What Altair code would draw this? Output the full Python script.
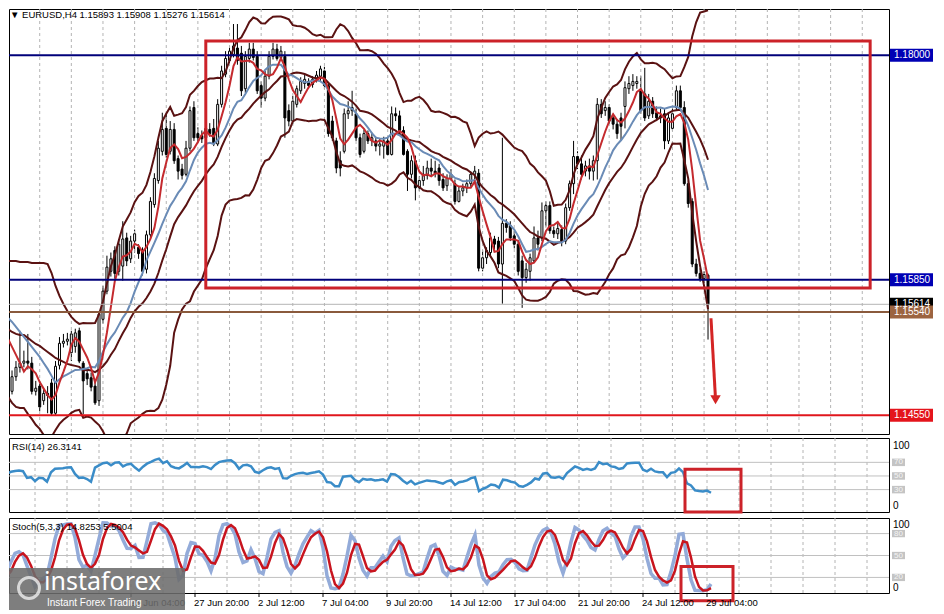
import altair as alt
import pandas as pd

# ---------------- data ----------------
opens = [
    1.1509, 1.1478, 1.1492, 1.1501, 1.1505, 1.1507, 1.1505, 1.1478, 1.1483, 1.1469,
    1.1476, 1.1486, 1.1457, 1.1503, 1.1524, 1.1526, 1.1515, 1.1521, 1.1536, 1.1505,
    1.1495, 1.1491, 1.1483, 1.1469, 1.1547, 1.1574, 1.1593, 1.1613, 1.1593, 1.1598,
    1.1625, 1.1605, 1.1622, 1.1616, 1.1613, 1.1595, 1.1628, 1.1657, 1.1680, 1.1708,
    1.1730, 1.1708, 1.1729, 1.1701, 1.1691, 1.1686, 1.1711, 1.1750, 1.1725, 1.1723,
    1.1721, 1.1729, 1.1730, 1.1715, 1.1753, 1.1782, 1.1795, 1.1801, 1.1807, 1.1802,
    1.1768, 1.1797, 1.1806, 1.1799, 1.1771, 1.1759, 1.1780, 1.1799, 1.1806, 1.1798,
    1.1799, 1.1747, 1.1737, 1.1753, 1.1766, 1.1773, 1.1775, 1.1772, 1.1777, 1.1780,
    1.1785, 1.1771, 1.1737, 1.1718, 1.1699, 1.1708, 1.1744, 1.1747, 1.1744, 1.1721,
    1.1708, 1.1725, 1.1718, 1.1718, 1.1713, 1.1713, 1.1718, 1.1705, 1.1744, 1.1742,
    1.1728, 1.1708, 1.1686, 1.1699, 1.1673, 1.1680, 1.1685, 1.1692, 1.1689, 1.1692,
    1.1681, 1.1675, 1.1682, 1.1677, 1.1660, 1.1670, 1.1673, 1.1677, 1.1686, 1.1687,
    1.1596, 1.1606, 1.1611, 1.1624, 1.1622, 1.1600, 1.1639, 1.1637, 1.1627, 1.1619,
    1.1603, 1.1587, 1.1593, 1.1603, 1.1625, 1.1625, 1.1651, 1.1656, 1.1632, 1.1629,
    1.1633, 1.1622, 1.1654, 1.1677, 1.1703, 1.1696, 1.1689, 1.1694, 1.1689, 1.1699,
    1.1753, 1.1747, 1.1750, 1.1740, 1.1734, 1.1740, 1.1751, 1.1768, 1.1771, 1.1773,
    1.1766, 1.1763, 1.1742, 1.1756, 1.1745, 1.1742, 1.1744, 1.1718, 1.1730, 1.1750,
    1.1766, 1.1750, 1.1677, 1.1660, 1.1600, 1.1591, 1.1586, 1.15893,
]
highs = [
    1.1515, 1.1498, 1.1507, 1.1536, 1.1517, 1.1533, 1.1511, 1.1488, 1.1488, 1.1480,
    1.1483, 1.1490, 1.1507, 1.1530, 1.1533, 1.1534, 1.1536, 1.1538, 1.1539, 1.1507,
    1.1499, 1.1496, 1.1488, 1.1555, 1.1579, 1.1608, 1.1611, 1.1617, 1.1624, 1.1641,
    1.1630, 1.1627, 1.1633, 1.1619, 1.1616, 1.1632, 1.1664, 1.1687, 1.1718, 1.1745,
    1.1745, 1.1737, 1.1735, 1.1704, 1.1696, 1.1718, 1.1751, 1.1756, 1.1731, 1.1728,
    1.1737, 1.1735, 1.1739, 1.1758, 1.1790, 1.1804, 1.1809, 1.1830, 1.1830, 1.1809,
    1.1804, 1.1812, 1.1812, 1.1804, 1.1775, 1.1785, 1.1804, 1.1812, 1.1811, 1.1809,
    1.1804, 1.1753, 1.1761, 1.1771, 1.1779, 1.1782, 1.1778, 1.1780, 1.1785, 1.1790,
    1.1789, 1.1773, 1.1742, 1.1721, 1.1708, 1.1749, 1.1756, 1.1766, 1.1749, 1.1725,
    1.1729, 1.1728, 1.1726, 1.1722, 1.1720, 1.1722, 1.1722, 1.1751, 1.1750, 1.1747,
    1.1732, 1.1710, 1.1704, 1.1704, 1.1684, 1.1694, 1.1699, 1.1701, 1.1699, 1.1696,
    1.1687, 1.1686, 1.1691, 1.1681, 1.1674, 1.1677, 1.1681, 1.1689, 1.1694, 1.1691,
    1.1613, 1.1616, 1.1630, 1.1627, 1.1626, 1.1721, 1.1643, 1.1641, 1.1632, 1.1622,
    1.1608, 1.1601, 1.1610, 1.1636, 1.1632, 1.1659, 1.1660, 1.1660, 1.1636, 1.1639,
    1.1637, 1.1658, 1.1680, 1.1718, 1.1708, 1.1704, 1.1699, 1.1701, 1.1704, 1.1759,
    1.1758, 1.1756, 1.1753, 1.1744, 1.1739, 1.1745, 1.1775, 1.1780, 1.1782, 1.1780,
    1.1780, 1.1788, 1.1763, 1.1760, 1.1751, 1.1749, 1.1749, 1.1744, 1.1749, 1.1771,
    1.1771, 1.1756, 1.1680, 1.1663, 1.1605, 1.1596, 1.1593, 1.15908,
]
lows = [
    1.1474, 1.1475, 1.1488, 1.1496, 1.1501, 1.1499, 1.1475, 1.1474, 1.1459, 1.1465,
    1.1457, 1.1455, 1.1455, 1.1499, 1.1520, 1.1522, 1.1507, 1.1515, 1.1505, 1.1456,
    1.1484, 1.1478, 1.1465, 1.1464, 1.1543, 1.1571, 1.1588, 1.1586, 1.1589, 1.1584,
    1.1598, 1.1601, 1.1611, 1.1605, 1.1589, 1.1591, 1.1624, 1.1654, 1.1677, 1.1704,
    1.1702, 1.1705, 1.1696, 1.1681, 1.1681, 1.1684, 1.1708, 1.1718, 1.1716, 1.1716,
    1.1718, 1.1722, 1.1713, 1.1713, 1.1750, 1.1779, 1.1792, 1.1798, 1.1791, 1.1761,
    1.1764, 1.1793, 1.1795, 1.1763, 1.1750, 1.1756, 1.1777, 1.1796, 1.1795, 1.1795,
    1.1721, 1.1732, 1.1734, 1.1750, 1.1763, 1.1768, 1.1768, 1.1769, 1.1774, 1.1775,
    1.1768, 1.1722, 1.1718, 1.1687, 1.1684, 1.1706, 1.1739, 1.1742, 1.1718, 1.1702,
    1.1706, 1.1715, 1.1713, 1.1708, 1.1704, 1.1701, 1.1704, 1.1704, 1.1737, 1.1723,
    1.1704, 1.1670, 1.1682, 1.1661, 1.1670, 1.1675, 1.1681, 1.1684, 1.1683, 1.1675,
    1.1670, 1.1670, 1.1680, 1.1657, 1.1659, 1.1665, 1.1668, 1.1674, 1.1681, 1.1593,
    1.1593, 1.1600, 1.1607, 1.1614, 1.1596, 1.1562, 1.1630, 1.1622, 1.1615, 1.1589,
    1.1558, 1.1582, 1.1584, 1.1601, 1.1613, 1.1622, 1.1636, 1.1629, 1.1625, 1.1624,
    1.1617, 1.1619, 1.1651, 1.1667, 1.1691, 1.1681, 1.1684, 1.1681, 1.1680, 1.1681,
    1.1740, 1.1742, 1.1734, 1.1729, 1.1720, 1.1718, 1.1730, 1.1763, 1.1766, 1.1768,
    1.1744, 1.1737, 1.1739, 1.1740, 1.1737, 1.1735, 1.1710, 1.1715, 1.1728, 1.1747,
    1.1747, 1.1675, 1.1654, 1.1597, 1.1588, 1.1583, 1.1582, 1.15276,
]
closes = [
    1.1480, 1.1492, 1.1501, 1.1505, 1.1507, 1.1505, 1.1478, 1.1481, 1.1463, 1.1476,
    1.1474, 1.1457, 1.1502, 1.1524, 1.1526, 1.1528, 1.1533, 1.1534, 1.1507, 1.1488,
    1.1490, 1.1482, 1.1467, 1.1552, 1.1574, 1.1597, 1.1605, 1.1591, 1.1619, 1.1624,
    1.1603, 1.1622, 1.1629, 1.1610, 1.1593, 1.1628, 1.1660, 1.1682, 1.1711, 1.1729,
    1.1705, 1.1729, 1.1699, 1.1689, 1.1685, 1.1711, 1.1747, 1.1721, 1.1721, 1.1720,
    1.1730, 1.1725, 1.1715, 1.1753, 1.1785, 1.1797, 1.1804, 1.1809, 1.1795, 1.1766,
    1.1799, 1.1806, 1.1798, 1.1766, 1.1759, 1.1780, 1.1799, 1.1806, 1.1797, 1.1804,
    1.1740, 1.1737, 1.1756, 1.1768, 1.1775, 1.1777, 1.1771, 1.1777, 1.1781, 1.1787,
    1.1771, 1.1725, 1.1721, 1.1692, 1.1692, 1.1744, 1.1747, 1.1750, 1.1721, 1.1705,
    1.1725, 1.1718, 1.1721, 1.1713, 1.1715, 1.1718, 1.1705, 1.1744, 1.1742, 1.1728,
    1.1705, 1.1686, 1.1699, 1.1673, 1.1680, 1.1686, 1.1692, 1.1689, 1.1687, 1.1680,
    1.1673, 1.1682, 1.1686, 1.1660, 1.1670, 1.1673, 1.1677, 1.1686, 1.1689, 1.1596,
    1.1606, 1.1613, 1.1625, 1.1619, 1.1600, 1.1639, 1.1635, 1.1625, 1.1619, 1.1593,
    1.1587, 1.1595, 1.1606, 1.1625, 1.1619, 1.1651, 1.1656, 1.1632, 1.1629, 1.1634,
    1.1622, 1.1654, 1.1677, 1.1703, 1.1696, 1.1686, 1.1694, 1.1689, 1.1699, 1.1753,
    1.1744, 1.1750, 1.1737, 1.1734, 1.1725, 1.1732, 1.1769, 1.1773, 1.1775, 1.1775,
    1.1747, 1.1740, 1.1756, 1.1744, 1.1740, 1.1740, 1.1718, 1.1740, 1.1744, 1.1766,
    1.1750, 1.1677, 1.1658, 1.1600, 1.1591, 1.1586, 1.1590, 1.15614,
]

# indicator values visible at the left edge (their look-back reaches before the first bar shown)
bb_up_head = [1.16029, 1.16029, 1.16029, 1.16020, 1.16020, 1.16020, 1.16010, 1.16010, 1.16010,
              1.16010, 1.16000, 1.15914, 1.15790, 1.15694, 1.15617, 1.15550, 1.15493,
              1.15454, 1.15426]
bb_mid_head = [1.15378, 1.15349, 1.15330, 1.15320, 1.15320, 1.15292, 1.15263, 1.15234, 1.15215,
               1.15186, 1.15157, 1.15129, 1.15100, 1.15081, 1.15062, 1.15043, 1.15033,
               1.15024, 1.15014]
bb_lo_head = [1.14727, 1.14669, 1.14631, 1.14620, 1.14620, 1.14564, 1.14516, 1.14459, 1.14420,
              1.14362, 1.14314, 1.14343, 1.14410, 1.14468, 1.14507, 1.14536, 1.14573,
              1.14594, 1.14602]
ma13_head = [1.15483, 1.15445, 1.15397, 1.15349, 1.15301, 1.15253, 1.15205, 1.15157, 1.15110,
             1.15052, 1.14995, 1.14928]
ma5_head = [1.15282, 1.15206, 1.15129, 1.15052]

price_ticks = [1.18185, 1.17870, 1.17555, 1.17240, 1.16920, 1.16605, 1.16290,
               1.15975, 1.15655, 1.15340, 1.15025, 1.14710, 1.14390]
level_names = ["1.18000", "1.15850", "1.15614", "1.15540", "1.14550"]
level_prices = [1.18000, 1.15850, 1.15614, 1.15540, 1.14550]

time_tick_idx = [32, 48, 64, 80, 96, 112, 128, 144, 160, 176]
time_tick_txt = ["25 Jun 04:00", "27 Jun 20:00", "2 Jul 12:00", "7 Jul 04:00",
                 "9 Jul 20:00", "14 Jul 12:00", "17 Jul 04:00", "21 Jul 20:00",
                 "24 Jul 12:00", "29 Jul 04:00"]
grid_idx = list(range(8, 224, 8))

box_main = {"x": [50], "x2": [218], "y": [1.18137], "y2": [1.15770]}
box_rsi = {"x": [170.5], "x2": [184.5], "y": [60], "y2": [-3]}
box_stoch = {"x": [169.5], "x2": [182.5], "y": [35], "y2": [-12]}
arrow = {"x": [177.75], "x2": [178.9], "y": [1.1548], "y2": [1.1470]}

rsi_levels = [70, 50, 30]
stoch_levels = [80, 50, 20]

title_main = "\u25BC EURUSD,H4  1.15893 1.15908 1.15276 1.15614"
title_rsi = "RSI(14) 26.3141"
title_stoch = "Stoch(5,3,3) 14.8253 5.5004"

# ---------------- derived indicators ----------------
df = pd.DataFrame({"i": range(len(closes)), "open": opens, "high": highs,
                   "low": lows, "close": closes})
c = df["close"]
df["ma5"] = c.rolling(5, min_periods=1).mean()
df["ma13"] = c.rolling(13, min_periods=1).mean()
mid = c.rolling(20, min_periods=1).mean()
sd = c.rolling(20, min_periods=1).std(ddof=0).fillna(0)
df["bb_mid"] = mid
df["bb_up"] = mid + 2 * sd
df["bb_lo"] = mid - 2 * sd
df.loc[: len(bb_up_head) - 1, "bb_up"] = bb_up_head
df.loc[: len(bb_mid_head) - 1, "bb_mid"] = bb_mid_head
df.loc[: len(bb_lo_head) - 1, "bb_lo"] = bb_lo_head
df.loc[: len(ma13_head) - 1, "ma13"] = ma13_head
df.loc[: len(ma5_head) - 1, "ma5"] = ma5_head

# Wilder RSI(14), seeded neutral
deltas = c.diff().fillna(0).tolist()
seed = sum(abs(d) for d in deltas[1:15]) / 14 / 2
ag = al = seed
rsi_vals = []
for d in deltas:
    ag = (ag * 13 + max(d, 0)) / 14
    al = (al * 13 + max(-d, 0)) / 14
    rsi_vals.append(100 - 100 / (1 + ag / al))
df["rsi"] = rsi_vals

# Stochastic(5,3,3)
ll = df["low"].rolling(5, min_periods=1).min()
hh = df["high"].rolling(5, min_periods=1).max()
num = (c - ll).rolling(3, min_periods=1).sum()
den = (hh - ll).rolling(3, min_periods=1).sum()
df["k"] = 100 * num / den
df["d"] = df["k"].rolling(3, min_periods=1).mean()

# ---------------- layout / style ----------------
FONT = "Liberation Sans"
W, HM, HR, HS = 880, 425, 74, 75
GRID = "#b4b4b4"
xs = alt.Scale(domain=[1.5, 221.5], nice=False, zero=False)
ys_main = alt.Scale(domain=[1.14371, 1.18444], nice=False, zero=False)
ys_rsi = alt.Scale(domain=[-2.86, 105.7], nice=False, zero=False)
ys_sto = alt.Scale(domain=[-1.33, 101.33], nice=False, zero=False)

base = alt.Chart(df)
grid_df = pd.DataFrame({"g": grid_idx})
tick_df = pd.DataFrame({"g": time_tick_idx, "t": time_tick_txt})


def vgrid(h):
    return alt.Chart(grid_df).mark_rule(color=GRID, strokeWidth=1, strokeDash=[3, 3],
                                        clip=True).encode(
        x=alt.X("g:Q", scale=xs, axis=None), y=alt.value(0), y2=alt.value(h))


def X():
    return alt.X("i:Q", scale=xs, axis=None)


y_main_axis = alt.Axis(orient="right", values=price_ticks, format=".5f", grid=True,
                       gridDash=[3, 3], gridColor=GRID, domain=False, ticks=True, tickSize=4,
                       tickColor="black", labelFont=FONT, labelFontSize=10, labelColor="black",
                       labelPadding=3, labelOverlap=False, labelBound=False, labelFlush=False,
                       title=None)

wicks = base.mark_rule(color="black", strokeWidth=1, clip=True).encode(
    x=X(), y=alt.Y("low:Q", scale=ys_main, axis=y_main_axis), y2="high:Q")
bodies = base.mark_bar(size=2, stroke="black", strokeWidth=1, clip=True).encode(
    x=X(),
    y=alt.Y("open:Q", scale=ys_main, axis=None),
    y2="close:Q",
    fill=alt.condition(alt.datum.close >= alt.datum.open, alt.value("white"), alt.value("black")),
)


def ind(field, color, width):
    return base.mark_line(color=color, strokeWidth=width, clip=True).encode(
        x=X(), y=alt.Y(f"{field}:Q", scale=ys_main, axis=None))


bb_up = ind("bb_up", "#5a1212", 2)
bb_mid = ind("bb_mid", "#5a1212", 2)
bb_lo = ind("bb_lo", "#5a1212", 2)
ma13 = ind("ma13", "#6a8bb6", 2)
ma5 = ind("ma5", "#c42a2e", 2)

lvl_df = pd.DataFrame({"name": level_names, "price": level_prices})


def hline(k, color, width):
    return alt.Chart(lvl_df.iloc[[k]]).mark_rule(color=color, strokeWidth=width, clip=True).encode(
        x=alt.value(0), x2=alt.value(W), y=alt.Y("price:Q", scale=ys_main, axis=None))


lines = [hline(2, "#b4b4b4", 1), hline(0, "#00007a", 2), hline(1, "#00007a", 2),
         hline(3, "#8a5a3c", 2), hline(4, "#e0161c", 2)]

bg_scale = alt.Scale(domain=level_names,
                     range=["#0000b4", "#0000b4", "#000000", "#9c6440", "#e4141c"])
lab_boxes = alt.Chart(lvl_df).transform_calculate(
    top="datum.price + 0.00062", bot="datum.price - 0.00062"
).mark_rect(clip=False).encode(
    x=alt.value(W + 1), x2=alt.value(W + 44),
    y=alt.Y("top:Q", scale=ys_main, axis=None), y2="bot:Q",
    fill=alt.Fill("name:N", scale=bg_scale, legend=None),
)
lab_text = alt.Chart(lvl_df).mark_text(align="left", baseline="middle", color="white",
                                       font=FONT, fontSize=10, clip=False).encode(
    x=alt.value(W + 5), y=alt.Y("price:Q", scale=ys_main, axis=None), text="name:N")

box = alt.Chart(pd.DataFrame(box_main)).mark_rect(fillOpacity=0, stroke="#cc2229",
                                                  strokeWidth=3).encode(
    x=alt.X("x:Q", scale=xs, axis=None), x2="x2:Q",
    y=alt.Y("y:Q", scale=ys_main, axis=None), y2="y2:Q")

arr_df = pd.DataFrame(arrow)
arr_line = alt.Chart(arr_df).mark_rule(color="#d42424", strokeWidth=3).encode(
    x=alt.X("x:Q", scale=xs, axis=None), x2="x2:Q",
    y=alt.Y("y:Q", scale=ys_main, axis=None), y2="y2:Q")
arr_head = alt.Chart(arr_df).mark_point(shape="triangle-down", filled=True, size=110,
                                        color="#d42424", opacity=1).encode(
    x=alt.X("x2:Q", scale=xs, axis=None), y=alt.Y("y2:Q", scale=ys_main, axis=None))

t_main = alt.Chart(pd.DataFrame({"t": [title_main]})).mark_text(
    align="left", baseline="middle", font=FONT, fontSize=9.5, color="black").encode(
    x=alt.value(1), y=alt.value(6), text="t:N")

main = alt.layer(wicks, vgrid(HM), bodies, bb_up, bb_mid, bb_lo, ma13, ma5, *lines, box,
                 arr_line, arr_head, lab_boxes, lab_text, t_main).properties(width=W, height=HM)

# ---------------- RSI pane ----------------
rsi_lv = pd.DataFrame({"v": rsi_levels, "t": [str(v) for v in rsi_levels]})
rsi_lines = alt.Chart(rsi_lv).mark_rule(color="#c0c0c0", strokeWidth=1).encode(
    x=alt.value(0), x2=alt.value(W), y=alt.Y("v:Q", scale=ys_rsi, axis=None))
rsi_line = base.mark_line(color="#3a8cc8", strokeWidth=2.5, clip=True).encode(
    x=X(), y=alt.Y("rsi:Q", scale=ys_rsi, axis=None))
rsi_gbox = alt.Chart(rsi_lv).transform_calculate(
    top="datum.v + 5.5", bot="datum.v - 5.5").mark_rect(color="#c4c4c4", clip=False).encode(
    x=alt.value(W + 3), x2=alt.value(W + 16),
    y=alt.Y("top:Q", scale=ys_rsi, axis=None), y2="bot:Q")
rsi_gtxt = alt.Chart(rsi_lv).mark_text(align="center", baseline="middle", color="#f4f4f4",
                                       font=FONT, fontSize=8, clip=False).encode(
    x=alt.value(W + 9.5), y=alt.Y("v:Q", scale=ys_rsi, axis=None), text="t:N")
rsi_end = alt.Chart(pd.DataFrame({"v": [94.5, 6], "t": ["100", "0"]})).mark_text(
    align="left", baseline="middle", color="black", font=FONT, fontSize=10, clip=False).encode(
    x=alt.value(W + 4), y=alt.Y("v:Q", scale=ys_rsi, axis=None), text="t:N")
rsi_box = alt.Chart(pd.DataFrame(box_rsi)).mark_rect(fillOpacity=0, stroke="#cc2229",
                                                     strokeWidth=3, clip=False).encode(
    x=alt.X("x:Q", scale=xs, axis=None), x2="x2:Q",
    y=alt.Y("y:Q", scale=ys_rsi, axis=None), y2="y2:Q")
t_rsi = alt.Chart(pd.DataFrame({"t": [title_rsi]})).mark_text(
    align="left", baseline="middle", font=FONT, fontSize=9.5, color="black").encode(
    x=alt.value(3), y=alt.value(9), text="t:N")
rsi = alt.layer(vgrid(HR), rsi_lines, rsi_line, rsi_gbox, rsi_gtxt, rsi_end, rsi_box,
                t_rsi).properties(width=W, height=HR)

# ---------------- Stochastic pane ----------------
sto_lv = pd.DataFrame({"v": stoch_levels, "t": [str(v) for v in stoch_levels]})
sto_lines = alt.Chart(sto_lv).mark_rule(color="#c0c0c0", strokeWidth=1).encode(
    x=alt.value(0), x2=alt.value(W), y=alt.Y("v:Q", scale=ys_sto, axis=None))
k_line = base.mark_line(color="#93abd9", strokeWidth=3.5, clip=True).encode(
    x=X(), y=alt.Y("k:Q", scale=ys_sto, axis=None))
d_line = base.mark_line(color="#c8141e", strokeWidth=2.5, clip=True).encode(
    x=X(), y=alt.Y("d:Q", scale=ys_sto, axis=None))
sto_gbox = alt.Chart(sto_lv).transform_calculate(
    top="datum.v + 5", bot="datum.v - 5").mark_rect(color="#c4c4c4", clip=False).encode(
    x=alt.value(W + 3), x2=alt.value(W + 16),
    y=alt.Y("top:Q", scale=ys_sto, axis=None), y2="bot:Q")
sto_gtxt = alt.Chart(sto_lv).mark_text(align="center", baseline="middle", color="#f4f4f4",
                                       font=FONT, fontSize=8, clip=False).encode(
    x=alt.value(W + 9.5), y=alt.Y("v:Q", scale=ys_sto, axis=None), text="t:N")
sto_end = alt.Chart(pd.DataFrame({"v": [92, 6], "t": ["100", "0"]})).mark_text(
    align="left", baseline="middle", color="black", font=FONT, fontSize=10, clip=False).encode(
    x=alt.value(W + 4), y=alt.Y("v:Q", scale=ys_sto, axis=None), text="t:N")
sto_box = alt.Chart(pd.DataFrame(box_stoch)).mark_rect(fillOpacity=0, stroke="#cc2229",
                                                       strokeWidth=3, clip=False).encode(
    x=alt.X("x:Q", scale=xs, axis=None), x2="x2:Q",
    y=alt.Y("y:Q", scale=ys_sto, axis=None), y2="y2:Q")
t_sto = alt.Chart(pd.DataFrame({"t": [title_stoch]})).mark_text(
    align="left", baseline="middle", font=FONT, fontSize=9.5, color="black").encode(
    x=alt.value(3), y=alt.value(9), text="t:N")

time_ticks = alt.Chart(tick_df).mark_rule(color="black", strokeWidth=1, clip=False).encode(
    x=alt.X("g:Q", scale=xs, axis=None), y=alt.value(HS), y2=alt.value(HS + 4))
time_text = alt.Chart(tick_df).mark_text(align="left", baseline="top", font=FONT, fontSize=9.5,
                                         color="black", dx=-1, clip=False).encode(
    x=alt.X("g:Q", scale=xs, axis=None), y=alt.value(HS + 5), text="t:N")

one = pd.DataFrame({"a": [0]})
logo_bg = alt.Chart(one).mark_rect(color="#6c6c6c", opacity=0.88, clip=False).encode(
    x=alt.value(0), x2=alt.value(176), y=alt.value(50), y2=alt.value(HS + 17))
logo_ring = alt.Chart(one).mark_point(shape="circle", size=440, color="white", strokeWidth=3,
                                      clip=False).encode(x=alt.value(20), y=alt.value(70))
logo_t1 = alt.Chart(pd.DataFrame({"t": ["instaforex"]})).mark_text(
    align="left", baseline="middle", font="Noto Sans", fontSize=25, color="white",
    clip=False).encode(x=alt.value(35), y=alt.value(64), text="t:N")
logo_t2 = alt.Chart(pd.DataFrame({"t": ["Instant Forex Trading"]})).mark_text(
    align="left", baseline="middle", font=FONT, fontSize=10, color="white",
    clip=False).encode(x=alt.value(38), y=alt.value(85), text="t:N")

stoch = alt.layer(vgrid(HS), sto_lines, k_line, d_line, sto_gbox, sto_gtxt, sto_end, sto_box,
                  t_sto, time_ticks, time_text, logo_bg, logo_ring, logo_t1,
                  logo_t2).properties(width=W, height=HS)

chart = alt.vconcat(main, rsi, stoch, spacing=2).properties(
    padding=0, background="white"
).configure_view(stroke="black", strokeWidth=1)

chart.save("out.html", embed_options={"renderer": "svg", "actions": False})
